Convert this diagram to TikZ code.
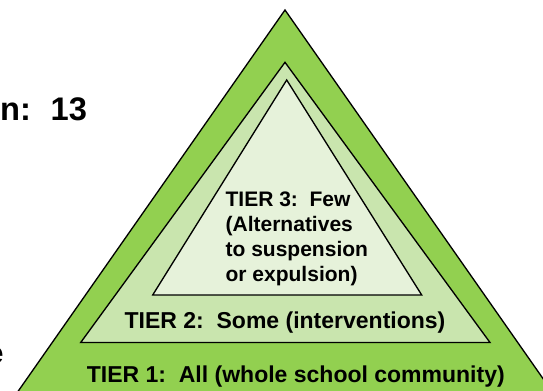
\documentclass[tikz,border=0pt]{standalone}
\usepackage{fontspec}
\setmainfont{Liberation Sans}
\usepackage{tikz}

\definecolor{tierone}{HTML}{92D050}
\definecolor{tiertwo}{HTML}{C9E5AE}
\definecolor{tierthree}{HTML}{E6F2DA}

\begin{document}
\begin{tikzpicture}[x=0.75pt,y=-0.75pt,line width=1pt,line join=miter]
    \useasboundingbox (0,0) rectangle (543,391);
    \clip (0,0) rectangle (543,391);

    \coordinate (O1) at (285, 10);
    \coordinate (O2) at (12, 400);
    \coordinate (O3) at (558, 400);

    \coordinate (M1) at (285, 62.3);
    \coordinate (M2) at (80.7, 342.5);
    \coordinate (M3) at (490, 342.5);

    \coordinate (I1) at (286.7, 80);
    \coordinate (I2) at (152.7, 295);
    \coordinate (I3) at (421.7, 295);

    \coordinate (T1) at (295.8, 382.5);
    \coordinate (T2) at (285, 328.5);
    \coordinate (T3) at (225, 190.7);

    \filldraw[fill=tierone] (O1) -- (O2) -- (O3) -- cycle;
    \filldraw[fill=tiertwo] (M1) -- (M2) -- (M3) -- cycle;
    \filldraw[fill=tierthree] (I1) -- (I2) -- (I3) -- cycle;

%labels
    \node (N) at (-0.5, 120.7) [anchor=base west, inner sep=0,
        font=\fontsize{24.5}{29}\selectfont\bfseries] {n:\hspace{0.6em}13};
    \node (E) at (4.3, 363.3) [anchor=base east, inner sep=0,
        font=\fontsize{22.5}{27}\selectfont\bfseries] {e};

    \node (tierthree) at (T3) [anchor=north west, inner sep=0, align=left,
        font=\fontsize{15.75}{18.75}\selectfont\bfseries]
        {TIER 3:\ \ Few\\(Alternatives\\to suspension\\or expulsion)};
    \node (tiertwo) at (T2) [anchor=base, inner sep=0,
        font=\fontsize{17.25}{21}\selectfont\bfseries] {TIER 2:\ \ Some (interventions)};
    \node (tierone) at (T1) [anchor=base, inner sep=0,
        font=\fontsize{17.25}{21}\selectfont\bfseries] {TIER 1:\ \ All (whole school community)};

\end{tikzpicture}
\end{document}
